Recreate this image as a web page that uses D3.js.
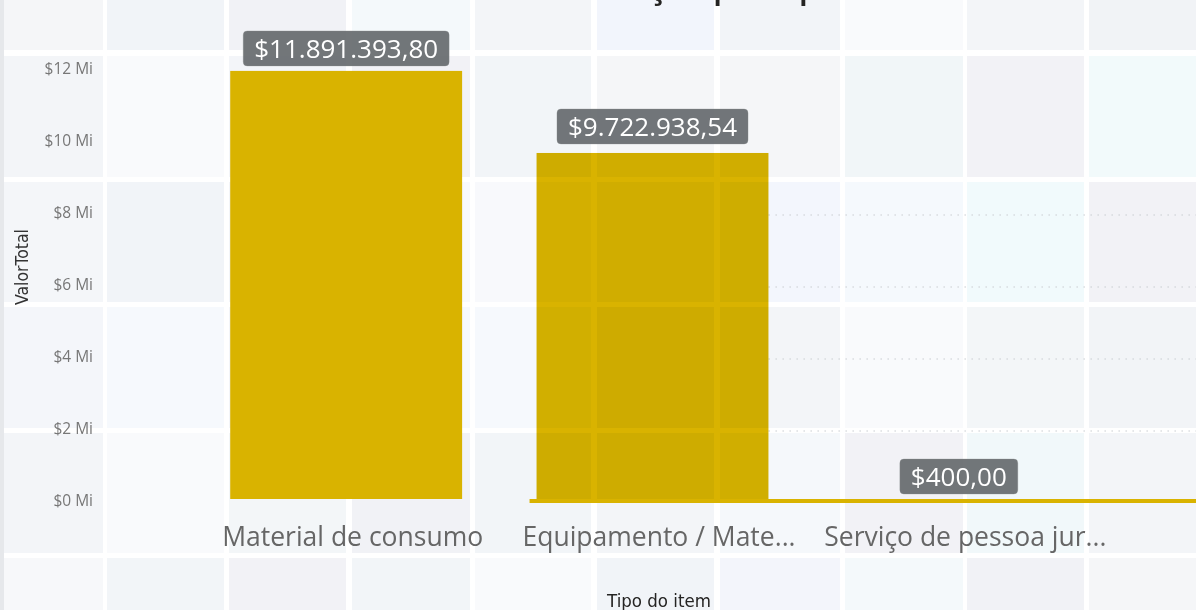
<!DOCTYPE html>
<html><head><meta charset="utf-8">
<script src="https://cdn.jsdelivr.net/npm/d3@7"></script>
<style>
html,body{margin:0;padding:0;background:#fff;overflow:hidden;}
svg{display:block;}
</style></head><body>
<svg id="c" width="1196" height="610"></svg>
<script>
// ---- data ----
const categories = ["Material de consumo", "Equipamento / Material permanente", "Serviço de pessoa jurídica"];
const categoryLabels = ["Material de consumo", "Equipamento / Mate...", "Serviço de pessoa jur..."];
const values = [11891393.80, 9722938.54, 400.00];
const valueLabels = ["$11.891.393,80", "$9.722.938,54", "$400,00"];
const yTicks = [0, 2e6, 4e6, 6e6, 8e6, 10e6, 12e6];
const yTickLabels = ["$0 Mi", "$2 Mi", "$4 Mi", "$6 Mi", "$8 Mi", "$10 Mi", "$12 Mi"];
const gridTicks = [2e6, 4e6, 6e6, 8e6];
const chartTitle = "Distribuição por tipo de item";
const yAxisTitle = "ValorTotal";
const xAxisTitle = "Tipo do item";

// ---- background tiles (decoration) ----
const tileCols = [[-10,103],[107,224],[229,346],[352,470],[475,591],[597,714],[720,840],[845,963],[967,1084],[1089,1210]];
const tileRows = [[-80,50],[56,177],[182,302],[307,428],[433,553],[558,690]];
const tileColors = [
 ["#f5f6f8","#f1f4f8","#f1f2f6","#f4f9fb","#f3f5f8","#f2f5fc","#f2f4f8","#f9fafc","#f3f5f8","#f1f3f6"],
 ["#f3f5f8","#f9fafc","#f3f5f9","#f2f2f6","#f2f5f8","#f5f6f8","#f5f6f8","#f1f6f8","#f2f2f6","#f2fafb"],
 ["#f4f6f9","#f1f4f8","#f3f5f9","#f8f9fc","#f8f9fc","#f5f6f8","#f3f6fd","#f5f9fd","#f1fafc","#f2f2f6"],
 ["#f4f6fa","#f6f9fd","#f3f5f9","#f6f9fd","#f6f9fd","#f2f4f8","#f3f5f8","#f9fafc","#f3f6f8","#f2f4f7"],
 ["#f3f5f8","#f9fafc","#f3f6f8","#f1f2f6","#f2f5f8","#f3f5f8","#f5f8fb","#f2f2f6","#f1f8fa","#f3f5f8"],
 ["#f7f8fa","#f2f5f8","#f2f2f6","#f2f5f8","#f9fafc","#f1f4f8","#f3f5fb","#f4f9fb","#f1f2f6","#f5f6f8"]
];

const W = 1196, H = 610;
const svg = d3.select("#c");
const FONT = "'Open Sans','Noto Sans',sans-serif";
const NARROW = "'Liberation Sans Narrow','DejaVu Sans Condensed','Roboto Condensed',sans-serif";
const BAR = "#D9B300";

// tiles
const bg = svg.append("g");
bg.append("rect").attr("width", W).attr("height", H).attr("fill", "#ffffff");
tileRows.forEach((r, ri) => {
  tileCols.forEach((c, ci) => {
    bg.append("rect").attr("x", c[0]).attr("y", r[0])
      .attr("width", c[1] - c[0]).attr("height", r[1] - r[0])
      .attr("fill", tileColors[ri][ci]);
  });
});
bg.append("rect").attr("x", 0).attr("y", 0).attr("width", 4).attr("height", H).attr("fill", "#e6e8eb");

// scales
const x = d3.scaleBand().domain(categories).range([193, 1112]).paddingInner(0.243).paddingOuter(0.1215);
const y = d3.scaleLinear().domain([0, 12e6]).range([503, 71]);

// title (mostly cut off at top, as in the reference)
const title = svg.append("text").text(chartTitle)
  .attr("font-family", FONT).attr("font-size", 33).attr("font-weight", 600)
  .attr("fill", "#252423").attr("y", -2).attr("x", 0);
{
  const idx = chartTitle.indexOf("ç");
  const node = title.node();
  const p = node.getStartPositionOfChar(idx).x + node.getExtentOfChar(idx).width / 2;
  title.attr("x", 657 - p);
}

// y axis
const yAxis = d3.axisLeft(y).tickValues(yTicks).tickFormat((d, i) => yTickLabels[i]).tickSize(0).tickPadding(0);
const yg = svg.append("g").attr("transform", "translate(93,-2)").call(yAxis);
yg.select(".domain").remove();
yg.selectAll("text").attr("font-family", FONT).attr("font-size", 15.5).attr("fill", "#777777");

// layer B: gridlines, second bar (multiply), baseline strip
const layerB = svg.append("g");
const gx0 = x(categories[1]) + x.bandwidth();
layerB.selectAll("line.grid").data(gridTicks).enter().append("line")
  .attr("x1", gx0).attr("x2", W)
  .attr("y1", d => y(d)).attr("y2", d => y(d))
  .attr("stroke", "#c9ccd1").attr("stroke-width", 1.2).attr("stroke-dasharray", "1.5,5.5");
layerB.append("rect")
  .attr("x", x(categories[1])).attr("width", x.bandwidth())
  .attr("y", y(values[1])).attr("height", y(0) - y(values[1]) - 4)
  .attr("fill", BAR).style("mix-blend-mode", "multiply");
layerB.append("rect")
  .attr("x", x(categories[1]) - 7).attr("width", W - x(categories[1]) + 7)
  .attr("y", y(0) - 4).attr("height", 4)
  .attr("fill", BAR);

// layer A: first bar + labels (shifted up)
const layerA = svg.append("g").attr("transform", "translate(0,-4)");
layerA.append("rect")
  .attr("x", x(categories[0])).attr("width", x.bandwidth())
  .attr("y", y(values[0])).attr("height", y(0) - y(values[0]))
  .attr("fill", BAR);

categories.forEach((c, i) => {
  const cx = x(c) + x.bandwidth() / 2;
  const g = layerA.append("g");
  const t = g.append("text").text(valueLabels[i])
    .attr("font-family", FONT).attr("font-size", 26).attr("fill", "#ffffff")
    .attr("text-anchor", "middle").attr("x", cx);
  const w = t.node().getComputedTextLength();
  const boxH = 35, bottom = y(values[i]) - 5;
  g.insert("rect", "text")
    .attr("x", cx - w / 2 - 11).attr("width", w + 22)
    .attr("y", bottom - boxH).attr("height", boxH).attr("rx", 4)
    .attr("fill", "#63676a").attr("fill-opacity", 0.9)
    .attr("stroke", "#8a8d90").attr("stroke-opacity", 0.3);
  t.attr("y", bottom - boxH / 2).attr("dy", "0.35em");
});

// x axis labels
const xAxis = d3.axisBottom(x).tickFormat((d, i) => categoryLabels[i]).tickSize(0).tickPadding(0);
const xg = svg.append("g").attr("transform", "translate(6.5,546)").call(xAxis);
xg.select(".domain").remove();
xg.selectAll("text").attr("font-family", FONT).attr("font-size", 26.5).attr("fill", "#666666")
  .attr("dy", 0).attr("y", 0);

// axis titles
svg.append("text").text(yAxisTitle)
  .attr("font-family", NARROW).attr("font-size", 17.5).attr("fill", "#333333")
  .attr("text-anchor", "middle")
  .attr("transform", "translate(28,267) rotate(-90)");
svg.append("text").text(xAxisTitle)
  .attr("font-family", NARROW).attr("font-size", 18.5).attr("fill", "#252423")
  .attr("text-anchor", "middle").attr("x", 659).attr("y", 607);
</script>
</body></html>
